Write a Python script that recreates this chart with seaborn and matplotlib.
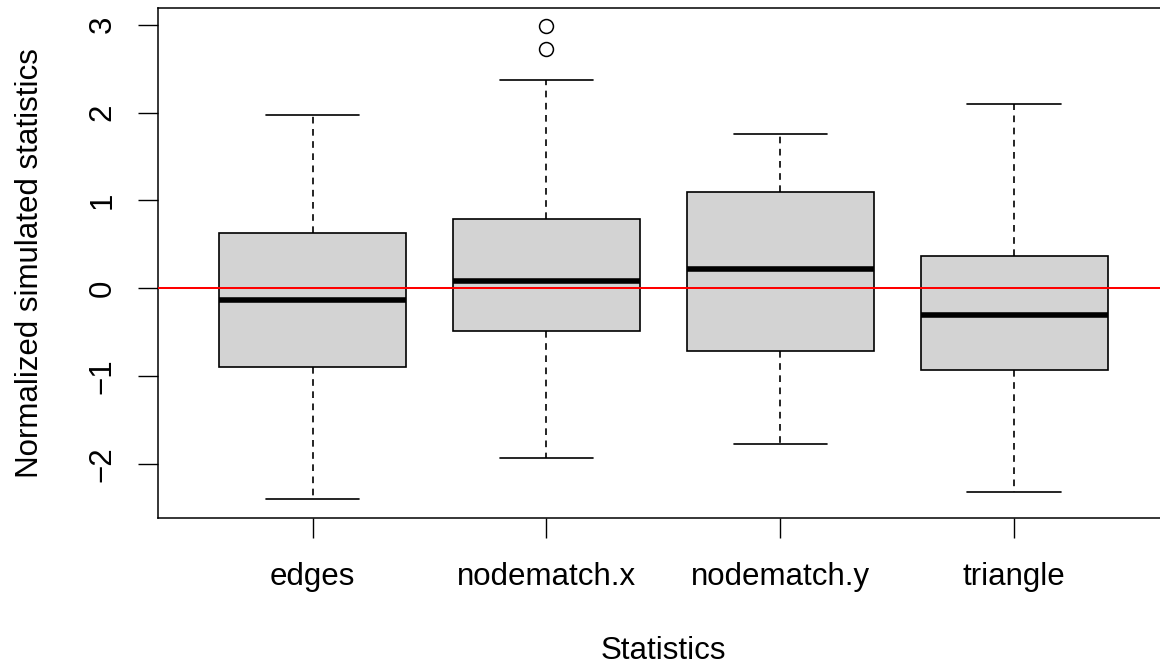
import numpy as np
import pandas as pd
import matplotlib
matplotlib.use("Agg")
import matplotlib.pyplot as plt
import seaborn as sns

# ---- data ----
categories = ["edges", "nodematch.x", "nodematch.y", "triangle"]
whisker_low = [-2.40, -1.93, -1.77, -2.32]
q1 = [-0.89, -0.485, -0.71, -0.925]
median = [-0.13, 0.08, 0.22, -0.30]
q3 = [0.63, 0.79, 1.10, 0.37]
whisker_high = [1.97, 2.37, 1.76, 2.10]
outliers = [[], [2.72, 2.98], [], []]
y_ticks = [-2, -1, 0, 1, 2, 3]
x_title = "Statistics"
y_title = "Normalized simulated statistics"
reference_value = 0

summary = pd.DataFrame({"category": categories, "whislo": whisker_low, "q1": q1,
                        "med": median, "q3": q3, "whishi": whisker_high})

sns.set_theme(style="white")
plt.rcParams["font.family"] = ["Liberation Sans", "DejaVu Sans"]
plt.rcParams["text.color"] = "black"
plt.rcParams["axes.labelcolor"] = "black"
plt.rcParams["xtick.color"] = "black"
plt.rcParams["ytick.color"] = "black"

FS = 22.5
fig = plt.figure(figsize=(11.6, 6.68), dpi=100)
ax = fig.add_axes([0.13647, 0.22410, 0.87086, 0.76467])

stats = []
for i, row in summary.iterrows():
    stats.append(dict(label=row["category"], whislo=row["whislo"], q1=row["q1"],
                      med=row["med"], q3=row["q3"], whishi=row["whishi"],
                      fliers=np.array(outliers[i])))

positions = np.arange(1, len(categories) + 1)
lw = 1.2
ax.bxp(stats, positions=positions, widths=0.8, capwidths=0.4, patch_artist=True,
       boxprops=dict(facecolor="#D3D3D3", edgecolor="black", linewidth=lw),
       medianprops=dict(color="black", linewidth=4.0, solid_capstyle="butt"),
       whiskerprops=dict(color="black", linewidth=lw, linestyle=(0, (4.0, 3.3))),
       capprops=dict(color="black", linewidth=lw),
       flierprops=dict(marker="o", markerfacecolor="none", markeredgecolor="black",
                       markersize=10, markeredgewidth=1.1, linestyle="none"),
       showfliers=True, manage_ticks=False)

ax.axhline(reference_value, color="red", linewidth=1.45, zorder=5)

# R-like limits (4% padding)
all_vals = whisker_low + whisker_high + [v for o in outliers for v in o]
lo, hi = min(all_vals), max(all_vals)
pad = 0.04 * (hi - lo)
ax.set_ylim(lo - pad, hi + pad)
n = len(categories)
ax.set_xlim(0.5 - 0.04 * n, n + 0.5 + 0.04 * n)

ax.set_xticks(positions)
ax.set_xticklabels(categories, fontsize=FS, color="black")
ax.set_yticks(y_ticks)
ax.set_yticklabels([str(t).replace("-", "\u2212") for t in y_ticks], fontsize=FS,
                   rotation=90, va="center", color="black")
ax.tick_params(axis="both", which="major", direction="out", length=14.4, width=1.0,
               color="black", labelcolor="black", left=True, bottom=True)
ax.tick_params(axis="x", pad=17)
ax.tick_params(axis="y", pad=15)

for s in ax.spines.values():
    s.set_visible(True)
    s.set_color("black")
    s.set_linewidth(1.1)

ax.set_xlabel(x_title, fontsize=FS, color="black")
ax.xaxis.set_label_coords(0.5, -0.2304)
ax.set_ylabel(y_title, fontsize=FS, color="black")
ax.yaxis.set_label_coords(-0.1125, 0.5)
ax.grid(False)

fig.savefig("out.png", dpi=100, facecolor="white")
